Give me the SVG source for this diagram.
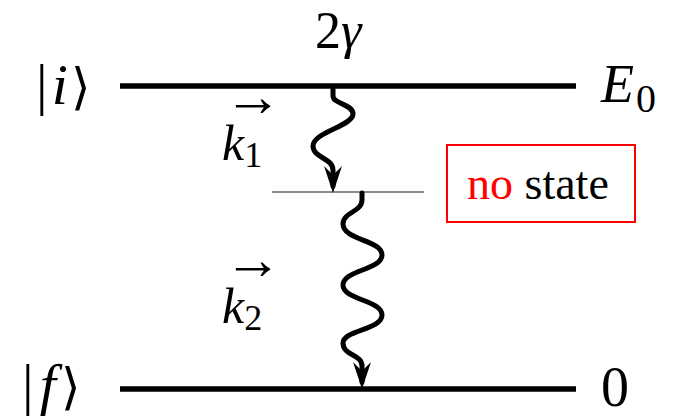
<svg xmlns="http://www.w3.org/2000/svg" width="676" height="417" viewBox="0 0 676 417">
<rect width="676" height="417" fill="#fff"/>
<g id="level-i">
<line x1="120" y1="86" x2="576" y2="86" stroke="#000" stroke-width="5.5"/>
<text x="36" y="104" font-size="58" font-family="Liberation Serif">|<tspan font-style="italic" dx="4">i</tspan><tspan font-size="50" dx="3">⟩</tspan></text>
<text x="601" y="102" font-size="54" font-family="Liberation Serif" font-style="italic">E<tspan font-style="normal" font-size="40" dx="2" dy="10">0</tspan></text>
</g>
<g id="level-virtual">
<line x1="272" y1="192" x2="424" y2="192" stroke="#666" stroke-width="1.5"/>
</g>
<g id="level-f">
<line x1="120" y1="389" x2="576" y2="389" stroke="#000" stroke-width="5.5"/>
<text x="22" y="404" font-size="58" font-family="Liberation Serif">|<tspan font-style="italic" dx="6">f</tspan><tspan font-size="50" dx="5">⟩</tspan></text>
<text x="601" y="406" font-size="56" font-family="Liberation Serif">0</text>
</g>
<g id="label-gamma">
<text x="315" y="48" font-size="52" font-family="Liberation Serif">2<tspan font-style="italic">γ</tspan></text>
</g>
<g id="label-k1">
<text x="224" y="116" font-size="58" font-family="Liberation Serif">→</text>
<text x="222" y="160" font-size="50" font-family="Liberation Serif" font-style="italic">k<tspan font-style="normal" font-size="36" dy="7">1</tspan></text>
</g>
<g id="label-k2">
<text x="224" y="279" font-size="58" font-family="Liberation Serif">→</text>
<text x="222" y="323" font-size="50" font-family="Liberation Serif" font-style="italic">k<tspan font-style="normal" font-size="36" dy="7">2</tspan></text>
</g>
<g id="no-state">
<rect x="447" y="145" width="188" height="77" fill="none" stroke="#f00" stroke-width="2"/>
<text x="467" y="199" font-size="46" font-family="Liberation Serif"><tspan fill="#f00">no</tspan> state</text>
</g>
<g id="connectors" fill="none" stroke="#000" stroke-width="5" stroke-linecap="round" stroke-linejoin="round">
<path d="M333,87 L333,96 C333,104 353,104 353,114 C353,126 313,132 313,146 C313,158 333,158 333,170 L333,186"/>
<polygon points="333,193 324,166 333,175 342,166" fill="#000" stroke="none"/>
<path d="M362,193 L362,200 C362,212 343,212 343,224 C343,240 382,240 382,255 C382,270 343,270 343,285 C343,300 382,300 382,315 C382,330 343,330 343,343 C343,356 362,354 362,366 L362,382"/>
<polygon points="362,389 353,362 362,371 371,362" fill="#000" stroke="none"/>
</g>
</svg>
